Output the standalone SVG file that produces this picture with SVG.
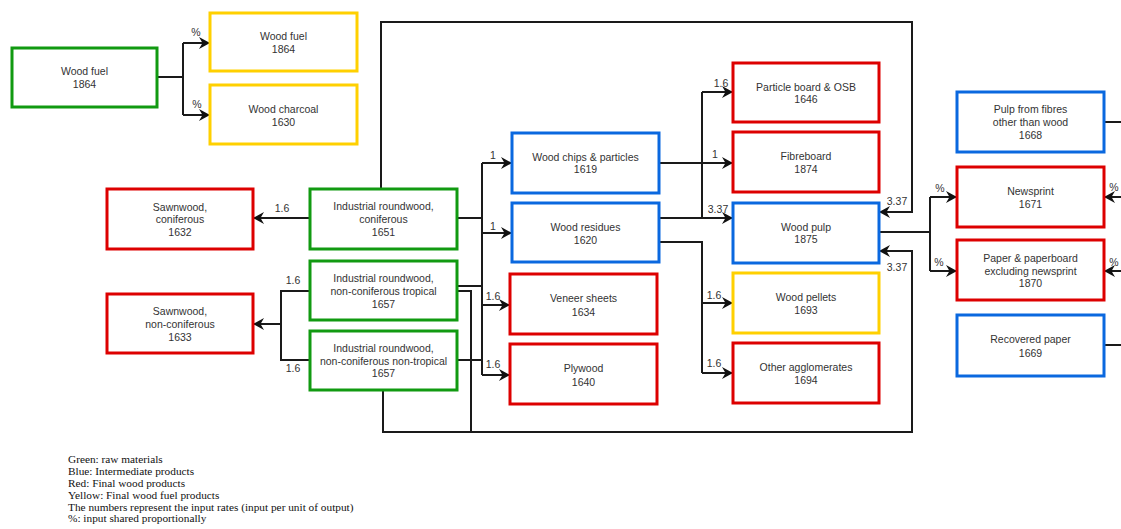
<svg xmlns="http://www.w3.org/2000/svg" width="1121" height="529" viewBox="0 0 1121 529">
<defs>
<marker id="arr" markerUnits="userSpaceOnUse" markerWidth="12" markerHeight="12" refX="11" refY="6" orient="auto">
<path d="M0,0 L11,6 L0,12 L3.5,6 Z" fill="#111"/>
</marker>
<style>
.box{fill:#fff;stroke-width:3}
.g{stroke:#119a11}
.b{stroke:#0a68df}
.r{stroke:#dd0000}
.y{stroke:#ffd000}
.t{font-family:"Liberation Sans",Arial,sans-serif;font-size:10.5px;fill:#333;text-anchor:middle}
.c{fill:none;stroke:#1a1a1a;stroke-width:2}
.ca{fill:none;stroke:#1a1a1a;stroke-width:2;marker-end:url(#arr)}
.lg{font-family:"Liberation Serif","Times New Roman",serif;font-size:11.3px;fill:#111}
</style>
</defs>
<rect width="1121" height="529" fill="#fff"/>

<g id="connectors">
<path class="c" d="M157,77 H183 M183,43 V115"/>
<path class="ca" d="M183,43 H210"/>
<path class="ca" d="M183,115 H210"/>
<path class="ca" d="M310,218 H253"/>
<path class="c" d="M310,291 H281 V360 H310"/>
<path class="ca" d="M281,324 H253"/>
<path class="ca" d="M381,189 V22 H912 V212 H879"/>
<path class="ca" d="M383,390 V432 H912 V251 H879"/>
<path class="c" d="M457,286 H482 M457,291 H471 V432 M457,218 H482 M457,360 H482 M482,163 V375"/>
<path class="ca" d="M482,163 H512"/>
<path class="ca" d="M482,233 H512"/>
<path class="ca" d="M482,305 H510"/>
<path class="ca" d="M482,375 H510"/>
<path class="ca" d="M659,163 H733"/>
<path class="ca" d="M659,218 H733"/>
<path class="c" d="M702,92 V218"/>
<path class="ca" d="M702,92 H733"/>
<path class="c" d="M659,242 H702 V373"/>
<path class="ca" d="M702,303 H733"/>
<path class="ca" d="M702,373 H733"/>
<path class="c" d="M879,232 H930 M930,197 V271"/>
<path class="ca" d="M930,197 H957"/>
<path class="ca" d="M930,271 H957"/>
<path class="c" d="M1104,122 H1121 M1104,345 H1121"/>
<path class="ca" d="M1121,197 H1104"/>
<path class="ca" d="M1121,271 H1104"/>
<g class="t">
<text x="196" y="36">%</text>
<text x="197" y="108">%</text>
<text x="282" y="212">1.6</text>
<text x="293" y="284">1.6</text>
<text x="293" y="372">1.6</text>
<text x="493" y="159">1</text>
<text x="493" y="230">1</text>
<text x="493" y="300">1.6</text>
<text x="493" y="368">1.6</text>
<text x="721" y="87">1.6</text>
<text x="715" y="158">1</text>
<text x="718" y="213">3.37</text>
<text x="714" y="299">1.6</text>
<text x="714" y="367">1.6</text>
<text x="897" y="205">3.37</text>
<text x="897" y="271">3.37</text>
<text x="940" y="192">%</text>
<text x="939" y="266">%</text>
<text x="1114" y="191">%</text>
<text x="1114" y="266">%</text>
</g>
</g>

<g id="wood-fuel-raw"><rect class="box g" x="12" y="48" width="145" height="59"/><text class="t" x="84.5" y="75">Wood fuel</text><text class="t" x="84.5" y="88">1864</text></g>
<g id="wood-fuel"><rect class="box y" x="210" y="13" width="147" height="58"/><text class="t" x="283.5" y="40">Wood fuel</text><text class="t" x="283.5" y="53">1864</text></g>
<g id="wood-charcoal"><rect class="box y" x="210" y="85" width="147" height="59"/><text class="t" x="283.5" y="113">Wood charcoal</text><text class="t" x="283.5" y="126">1630</text></g>
<g id="sawnwood-coniferous"><rect class="box r" x="107" y="189" width="146" height="60"/><text class="t" x="180" y="211">Sawnwood,</text><text class="t" x="180" y="223">coniferous</text><text class="t" x="180" y="236">1632</text></g>
<g id="sawnwood-nonconiferous"><rect class="box r" x="107" y="294" width="146" height="59"/><text class="t" x="180" y="315">Sawnwood,</text><text class="t" x="180" y="328">non-coniferous</text><text class="t" x="180" y="341">1633</text></g>
<g id="ir-coniferous"><rect class="box g" x="310" y="189" width="147" height="60"/><text class="t" x="383.5" y="210">Industrial roundwood,</text><text class="t" x="383.5" y="223">coniferous</text><text class="t" x="383.5" y="236">1651</text></g>
<g id="ir-tropical"><rect class="box g" x="310" y="261" width="147" height="59"/><text class="t" x="383.5" y="282">Industrial roundwood,</text><text class="t" x="383.5" y="295">non-coniferous tropical</text><text class="t" x="383.5" y="308">1657</text></g>
<g id="ir-nontropical"><rect class="box g" x="310" y="331" width="147" height="59"/><text class="t" x="383.5" y="352">Industrial roundwood,</text><text class="t" x="383.5" y="365">non-coniferous non-tropical</text><text class="t" x="383.5" y="377">1657</text></g>
<g id="wood-chips"><rect class="box b" x="512" y="133" width="147" height="60"/><text class="t" x="585.5" y="161">Wood chips &amp; particles</text><text class="t" x="585.5" y="173">1619</text></g>
<g id="wood-residues"><rect class="box b" x="512" y="203" width="147" height="59"/><text class="t" x="585.5" y="231">Wood residues</text><text class="t" x="585.5" y="244">1620</text></g>
<g id="veneer-sheets"><rect class="box r" x="510" y="274" width="147" height="60"/><text class="t" x="583.5" y="302">Veneer sheets</text><text class="t" x="583.5" y="316">1634</text></g>
<g id="plywood"><rect class="box r" x="510" y="344" width="147" height="60"/><text class="t" x="583.5" y="372">Plywood</text><text class="t" x="583.5" y="386">1640</text></g>
<g id="particle-board"><rect class="box r" x="733" y="63" width="146" height="59"/><text class="t" x="806" y="91">Particle board &amp; OSB</text><text class="t" x="806" y="103">1646</text></g>
<g id="fibreboard"><rect class="box r" x="733" y="132" width="146" height="60"/><text class="t" x="806" y="160">Fibreboard</text><text class="t" x="806" y="173">1874</text></g>
<g id="wood-pulp"><rect class="box b" x="733" y="203" width="146" height="60"/><text class="t" x="806" y="231">Wood pulp</text><text class="t" x="806" y="243">1875</text></g>
<g id="wood-pellets"><rect class="box y" x="733" y="273" width="146" height="60"/><text class="t" x="806" y="301">Wood pellets</text><text class="t" x="806" y="314">1693</text></g>
<g id="other-agglomerates"><rect class="box r" x="733" y="343" width="146" height="60"/><text class="t" x="806" y="371">Other agglomerates</text><text class="t" x="806" y="384">1694</text></g>
<g id="pulp-other-fibres"><rect class="box b" x="957" y="92" width="147" height="60"/><text class="t" x="1030.5" y="113">Pulp from fibres</text><text class="t" x="1030.5" y="126">other than wood</text><text class="t" x="1030.5" y="139">1668</text></g>
<g id="newsprint"><rect class="box r" x="957" y="167" width="147" height="60"/><text class="t" x="1030.5" y="195">Newsprint</text><text class="t" x="1030.5" y="208">1671</text></g>
<g id="paper-paperboard"><rect class="box r" x="957" y="240" width="147" height="60"/><text class="t" x="1030.5" y="262">Paper &amp; paperboard</text><text class="t" x="1030.5" y="275">excluding newsprint</text><text class="t" x="1030.5" y="287">1870</text></g>
<g id="recovered-paper"><rect class="box b" x="957" y="315" width="147" height="61"/><text class="t" x="1030.5" y="343">Recovered paper</text><text class="t" x="1030.5" y="357">1669</text></g>

<g id="legend">
<text class="lg" x="68" y="463">Green: raw materials</text>
<text class="lg" x="68" y="475">Blue: Intermediate products</text>
<text class="lg" x="68" y="487">Red: Final wood products</text>
<text class="lg" x="68" y="499">Yellow: Final wood fuel products</text>
<text class="lg" x="68" y="511">The numbers represent the input rates (input per unit of output)</text>
<text class="lg" x="68" y="522">%: input shared proportionally</text>
</g>
</svg>
